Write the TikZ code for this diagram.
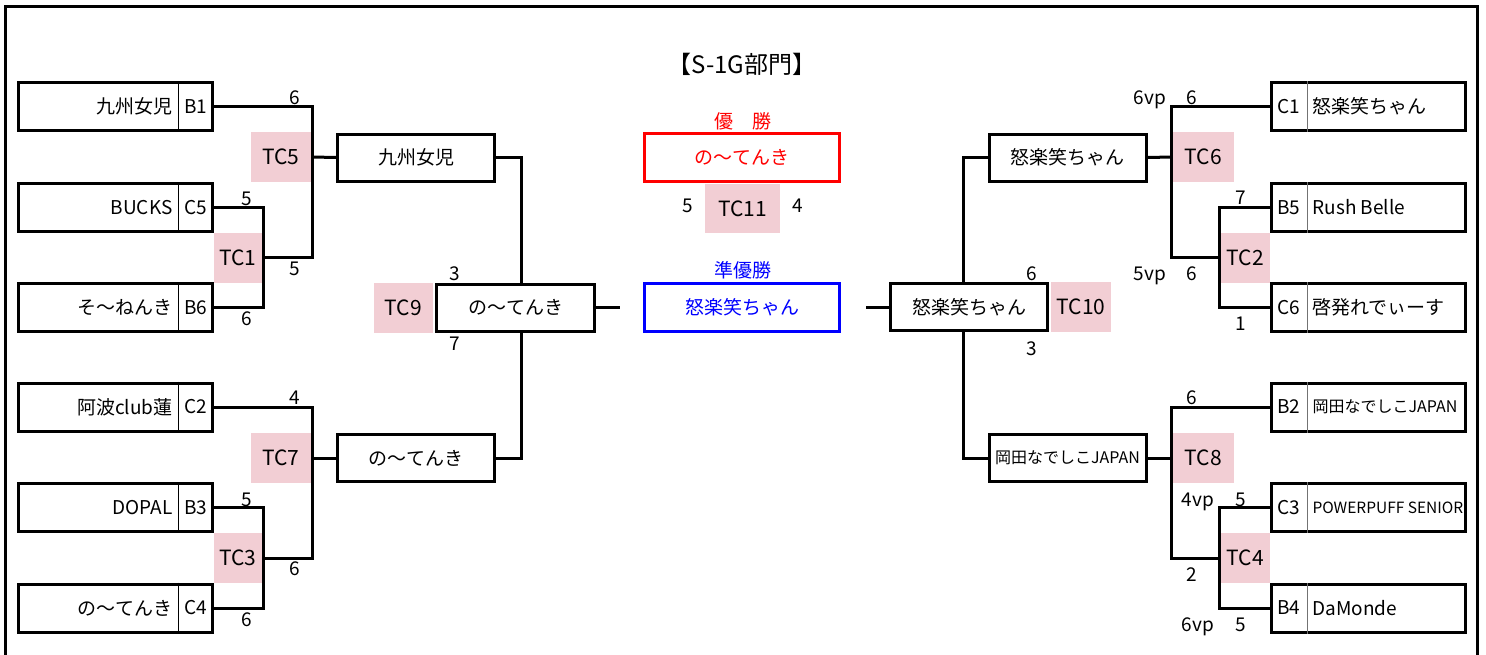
\documentclass[tikz,border=0pt]{standalone}
\usepackage{fontspec}
\setmainfont{Noto Sans CJK JP}
\definecolor{tcpink}{RGB}{242,206,212}

\begin{document}
\begin{tikzpicture}[x=1pt,y=-1pt,line width=3pt,
        teambox/.style={draw,minimum width=194pt,minimum height=48pt,inner sep=0pt},
        teamtext/.style={inner sep=0pt,font=\fontsize{19}{22}\selectfont},
        winbox/.style={draw,minimum width=157pt,minimum height=47pt,inner sep=0pt,font=\fontsize{19}{22}\selectfont},
        tcbox/.style={fill=tcpink,minimum width=60pt,minimum height=50pt,inner sep=0pt,font=\fontsize{21}{24}\selectfont},
        tcthin/.style={tcbox,minimum width=48pt},
        score/.style={anchor=base,inner sep=0pt,font=\fontsize{19}{22}\selectfont}]
    \useasboundingbox (0,0) rectangle (1486,654);
    \draw (5,660) -- (5,6) -- (1477,6) -- (1477,660);

    \node[font=\fontsize{24}{28}\selectfont] (title) at (742,64) {【S-1G部門】};

    % teams, left side
    \foreach \y/\team/\code/\nm in {106.5/九州女児/B1/b1, 207.5/BUCKS/C5/c5, 307.5/そ〜ねんき/B6/b6,
            407/阿波club蓮/C2/c2, 507.5/DOPAL/B3/b3, 608/の〜てんき/C4/c4} {
        \node[teambox] (\nm) at (115.5,\y) {};
        \draw[line width=1pt] ([xshift=-36pt]\nm.north east) -- ([xshift=-36pt]\nm.south east);
        \node[teamtext,anchor=east] (\nm-name) at (174,\y) {\team};
        \node[teamtext] (\nm-code) at (196,\y) {\code};
    }
    % teams, right side
    \foreach \y/\team/\code/\nm in {106.5/怒楽笑ちゃん/C1/c1, 207.5/Rush Belle/B5/b5, 307.5/啓発れでぃーす/C6/c6,
            407/{\fontsize{16}{18}\selectfont 岡田なでしこJAPAN}/B2/b2,
            507.5/{\fontsize{15.5}{18}\selectfont POWERPUFF SENIOR}/C3/c3, 608/DaMonde/B4/b4} {
        \node[teambox] (\nm) at (1368.5,\y) {};
        \draw[line width=1pt,black!55] ([xshift=37pt]\nm.north west) -- ([xshift=37pt]\nm.south west);
        \node[teamtext,anchor=west] (\nm-name) at (1311,\y) {\team};
        \node[teamtext] (\nm-code) at (1289,\y) {\code};
    }

    % match numbers
    \node[tcbox] (tc5) at (281,157) {TC5};
    \node[tcthin] (tc1) at (238,257.5) {TC1};
    \node[tcbox] (tc7) at (281,458) {TC7};
    \node[tcthin] (tc3) at (238,558) {TC3};
    \node[tcbox,minimum width=59pt] (tc9) at (403.5,307.5) {TC9};
    \node[tcbox,minimum width=75pt,minimum height=49pt] (tc11) at (742.5,208.5) {TC11};
    \node[tcbox] (tc10) at (1081,307) {TC10};
    \node[tcbox,minimum width=61pt] (tc6) at (1203.5,157) {TC6};
    \node[tcthin,minimum width=49pt] (tc2) at (1245.5,257.5) {TC2};
    \node[tcbox,minimum width=61pt] (tc8) at (1203.5,458) {TC8};
    \node[tcthin,minimum width=49pt] (tc4) at (1245.5,558) {TC4};

    % winners
    \node[winbox] (kyushu) at (416,157.5) {九州女児};
    \node[winbox] (noten7) at (416,458) {の〜てんき};
    \node[winbox,minimum width=158pt] (noten9) at (515.5,307.5) {の〜てんき};
    \node[winbox] (dora10) at (969,307) {怒楽笑ちゃん};
    \node[winbox] (dora6) at (1067.5,157.5) {怒楽笑ちゃん};
    \node[winbox] (okada8) at (1067.5,458) {\fontsize{16}{18}\selectfont 岡田なでしこJAPAN};

    \node[teamtext,text=red] (champlbl) at (743,121) {優　勝};
    \node[winbox,draw=red,text=red,minimum width=195pt,minimum height=48pt] (champ) at (742,157.5) {の〜てんき};
    \node[teamtext,text=blue] (runnerlbl) at (743,270) {準優勝};
    \node[winbox,draw=blue,text=blue,minimum width=195pt,minimum height=48pt] (runner) at (742,307) {怒楽笑ちゃん};

    % brackets, left
    \draw (b1.east) -| (tc1.east -| tc5.east) -- (tc1.east);
    \draw (c5.east) -| (tc1.east) |- (b6.east);
    \draw (tc5.east) -- (kyushu.west);
    \draw (c2.east) -| (tc3.east -| tc7.east) -- (tc3.east);
    \draw (b3.east) -| (tc3.east) |- (c4.east);
    \draw (tc7.east) -- (noten7.west);
    \coordinate (sfl) at (521,307.5);
    \draw (kyushu.east) -| (noten9.north -| sfl);
    \draw (noten7.east) -| (noten9.south -| sfl);
    \coordinate (finl) at (620,307.5);
    \draw (noten9.east) -- (finl);

    % brackets, right
    \coordinate (finr) at (866,307);
    \draw (finr) -- (dora10.west);
    \coordinate (sfr) at (963,307);
    \draw (dora6.west) -| (dora10.north -| sfr);
    \draw (okada8.west) -| (dora10.south -| sfr);
    \draw (c1.west) -| (tc2.west -| tc6.west) -- (tc2.west);
    \draw (b5.west) -| (tc2.west) |- (c6.west);
    \draw (tc6.west) -- (dora6.east);
    \draw (b2.west) -| (tc4.west -| tc8.west) -- (tc4.west);
    \draw (c3.west) -| (tc4.west) |- (b4.west);
    \draw (tc8.west) -- (okada8.east);

    % scores
    \foreach \x/\y/\s [count=\i] in {295/104/6, 247/205/5, 295/275/5, 247/325/6, 455/280/3, 455/350/7,
            295/404/4, 247/506/5, 295/575/6, 247/626/6, 688/212/5, 798/212/4,
            1150/104/6vp, 1192/104/6, 1241/204/7, 1150/280/5vp, 1192/280/6, 1241/330/1,
            1032/280/6, 1032/355/3, 1192/404/6, 1198/506/4vp, 1241/506/5, 1192/581/2,
            1198/631/6vp, 1241/631/5}
        \node[score] (s\i) at (\x,\y) {\s};
\end{tikzpicture}
\end{document}
